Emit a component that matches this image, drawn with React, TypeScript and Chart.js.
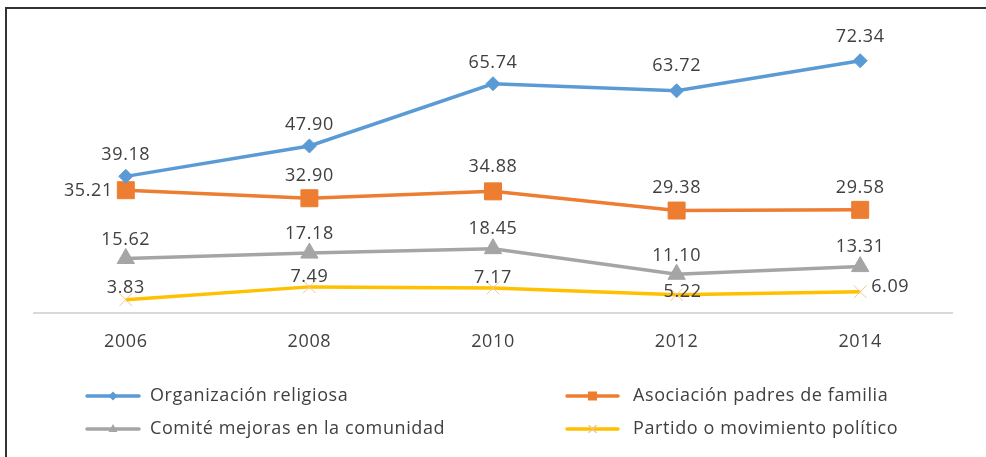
import React, { useEffect, useRef } from "react";
import { Chart, registerables } from "chart.js";

Chart.register(...registerables);

// ---- data ----
const years = ["2006", "2008", "2010", "2012", "2014"];
const seriesNames = [
  "Organización religiosa",
  "Asociación padres de familia",
  "Comité mejoras en la comunidad",
  "Partido o movimiento político",
];
const religiosa = [39.18, 47.9, 65.74, 63.72, 72.34];
const padres = [35.21, 32.9, 34.88, 29.38, 29.58];
const comite = [15.62, 17.18, 18.45, 11.1, 13.31];
const partido = [3.83, 7.49, 7.17, 5.22, 6.09];

const FONT = "'Open Sans', Lato, sans-serif";
const TEXT = "#404040";
const SPACING = "0.6px";

// label placement per dataset / point (styling only)
type LP = { dx: number; dy: number; align: CanvasTextAlign };
const above = (dy: number): LP => ({ dx: 0, dy, align: "center" });
const labelPlacement: LP[][] = [
  [above(-21), above(-21), above(-21), above(-25), above(-24)],
  [{ dx: -13, dy: 1, align: "right" }, above(-22), above(-24), above(-23), above(-22)],
  [above(-19), above(-19), above(-20), above(-18), above(-20)],
  [above(-12), above(-10), above(-10), { dx: 6, dy: -3, align: "center" }, { dx: 11, dy: -5, align: "left" }],
];

const legendLayout = {
  cols: [
    { lineX1: 87, lineX2: 139, textX: 150 },
    { lineX1: 567, lineX2: 618, textX: 633 },
  ],
  rows: [396, 429],
};

const spacingPlugin = {
  id: "spacing",
  beforeDraw(chart: any) {
    chart.ctx.letterSpacing = SPACING;
  },
};

const labelsPlugin = {
  id: "valueLabels",
  afterDatasetsDraw(chart: any) {
    const ctx = chart.ctx;
    ctx.save();
    ctx.letterSpacing = SPACING;
    ctx.font = `18px ${FONT}`;
    ctx.fillStyle = TEXT;
    ctx.textBaseline = "middle";
    chart.data.datasets.forEach((ds: any, di: number) => {
      const meta = chart.getDatasetMeta(di);
      meta.data.forEach((pt: any, i: number) => {
        const p = labelPlacement[di][i];
        ctx.textAlign = p.align;
        ctx.fillText(Number(ds.data[i]).toFixed(2), pt.x + p.dx, pt.y + p.dy);
      });
    });
    ctx.restore();
  },
};

const frameLegendPlugin = {
  id: "frameLegend",
  afterDraw(chart: any) {
    const ctx = chart.ctx;
    ctx.save();
    ctx.letterSpacing = SPACING;
    // frame
    ctx.strokeStyle = "#333333";
    ctx.lineWidth = 2;
    ctx.beginPath();
    ctx.moveTo(6, chart.height);
    ctx.lineTo(6, 8);
    ctx.lineTo(chart.width, 8);
    ctx.stroke();

    // legend
    chart.data.datasets.forEach((ds: any, di: number) => {
      const col = legendLayout.cols[di % 2];
      const y = legendLayout.rows[Math.floor(di / 2)];
      ctx.strokeStyle = ds.borderColor;
      ctx.lineWidth = 3.5;
      ctx.lineCap = "round";
      ctx.beginPath();
      ctx.moveTo(col.lineX1, y);
      ctx.lineTo(col.lineX2, y);
      ctx.stroke();
      const cx = (col.lineX1 + col.lineX2) / 2;
      const r = ds.legendRadius;
      ctx.fillStyle = ds.pointBackgroundColor;
      ctx.strokeStyle = ds.pointBorderColor;
      ctx.lineWidth = 1.5;
      ctx.beginPath();
      if (ds.pointStyle === "rectRot") {
        ctx.moveTo(cx - r, y);
        ctx.lineTo(cx, y - r);
        ctx.lineTo(cx + r, y);
        ctx.lineTo(cx, y + r);
        ctx.closePath();
        ctx.fill();
      } else if (ds.pointStyle === "rect") {
        ctx.rect(cx - r, y - r, 2 * r, 2 * r);
        ctx.fill();
      } else if (ds.pointStyle === "triangle") {
        ctx.moveTo(cx, y - r);
        ctx.lineTo(cx + r * 0.9, y + r * 0.6);
        ctx.lineTo(cx - r * 0.9, y + r * 0.6);
        ctx.closePath();
        ctx.fill();
      } else {
        ctx.moveTo(cx - r, y - r);
        ctx.lineTo(cx + r, y + r);
        ctx.moveTo(cx + r, y - r);
        ctx.lineTo(cx - r, y + r);
        ctx.stroke();
      }
      ctx.fillStyle = TEXT;
      ctx.font = `18px ${FONT}`;
      ctx.textAlign = "left";
      ctx.textBaseline = "middle";
      ctx.fillText(ds.label, col.textX, y);
    });
    ctx.restore();
  },
};

export default function App() {
  const ref = useRef<HTMLCanvasElement | null>(null);
  useEffect(() => {
    if (!ref.current) return;
    const mk = (
      label: string,
      data: number[],
      color: string,
      pointStyle: string,
      radius: number,
      legendRadius: number,
      ptBorder?: string,
      ptBorderWidth = 1
    ) => ({
      label,
      data,
      borderColor: color,
      backgroundColor: color,
      pointBackgroundColor: color,
      pointBorderColor: ptBorder || color,
      pointBorderWidth: ptBorderWidth,
      pointStyle,
      pointRadius: radius,
      pointHoverRadius: radius,
      borderWidth: 3.5,
      tension: 0,
      fill: false,
      legendRadius,
    });
    const chart = new Chart(ref.current, {
      type: "line",
      data: {
        labels: years,
        datasets: [
          mk(seriesNames[0], religiosa, "#5b9bd5", "rectRot", 7, 4.5),
          mk(seriesNames[1], padres, "#ed7d31", "rect", 12, 4.5),
          mk(seriesNames[2], comite, "#a5a5a5", "triangle", 10, 5),
          mk(seriesNames[3], partido, "#ffc000", "crossRot", 9, 3.5, "#f2c78a", 1),
        ] as any,
      },
      options: {
        animation: false,
        responsive: false,
        layout: { padding: { left: 34, right: 34, top: 34, bottom: 104 } },
        plugins: { legend: { display: false }, tooltip: { enabled: false } },
        scales: {
          x: {
            offset: true,
            grid: { display: false, drawTicks: false },
            border: { display: true, color: "#d9d9d9", width: 2 },
            ticks: { color: TEXT, font: { family: FONT, size: 18 }, padding: 18 },
            afterFit: (s: any) => {
              s.height = 40;
            },
          },
          y: { display: false, min: 0, max: 80 },
        },
      } as any,
      plugins: [spacingPlugin, labelsPlugin, frameLegendPlugin],
    });
    return () => chart.destroy();
  }, []);
  return (
    <div style={{ position: "absolute", left: 0, top: 0, width: 986, height: 457, background: "#fff" }}>
      <canvas ref={ref} width={986} height={457} style={{ display: "block" }} />
    </div>
  );
}
